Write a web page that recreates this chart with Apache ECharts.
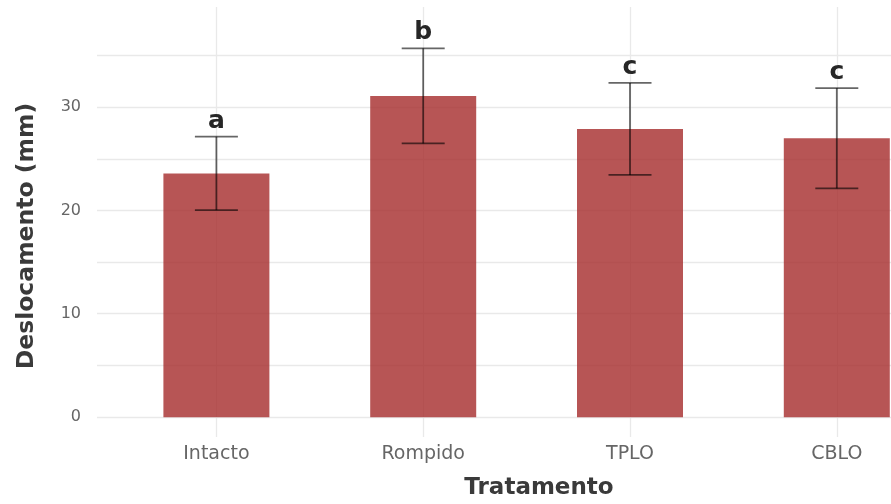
<!DOCTYPE html>
<html>
<head>
<meta charset="utf-8">
<script src="https://cdn.jsdelivr.net/npm/echarts@6/dist/echarts.min.js"></script>
<style>
  html, body { margin: 0; padding: 0; background: #ffffff; }
  #chart { width: 891px; height: 504px; }
</style>
</head>
<body>
<div id="chart"></div>
<script>
// Mean displacement per treatment, with standard deviation and group letters
const categories = ['Intacto', 'Rompido', 'TPLO', 'CBLO'];
const meanValues = [23.6, 31.1, 27.9, 27.0];
const sdValues = [3.55, 4.6, 4.45, 4.85];
const groupLetters = ['a', 'b', 'c', 'c'];
const yTickLabels = [0, 10, 20, 30];

const FONT = 'DejaVu Sans';
const GRID_COLOR = '#e9e9e9';

const errorData = categories.map((c, i) => [i, meanValues[i] - sdValues[i], meanValues[i] + sdValues[i]]);

const chart = echarts.init(document.getElementById('chart'), null, { renderer: 'canvas' });

const errStyle = { stroke: 'rgba(0,0,0,0.6)', lineWidth: 1.8, fill: null };
const CAP_HALF = 21.5;

chart.setOption({
  animation: false,
  backgroundColor: '#ffffff',
  grid: [
    // horizontal guide lines and y labels
    { left: 97, right: 0, top: 7, bottom: 87, outerBoundsMode: 'none' },
    // bars, error bars and category guide lines
    { left: 216.4, right: 54.2, top: 7, bottom: 67, outerBoundsMode: 'none' }
  ],
  xAxis: [
    { gridIndex: 0, type: 'value', show: false, min: 0, max: 1 },
    {
      gridIndex: 1,
      type: 'category',
      data: categories,
      boundaryGap: false,
      axisLine: { show: false },
      axisTick: { show: false },
      splitLine: { show: true, lineStyle: { color: GRID_COLOR, width: 1.3 } },
      axisLabel: {
        margin: 8,
        color: '#666666',
        fontFamily: FONT,
        fontSize: 19,
        interval: 0
      }
    }
  ],
  yAxis: [
    {
      gridIndex: 0,
      type: 'value',
      min: 0,
      max: 39.7,
      interval: 5,
      axisLine: { show: false },
      axisTick: { show: false },
      splitLine: { show: true, showMaxLine: false, lineStyle: { color: GRID_COLOR, width: 1.3 } },
      axisLabel: {
        margin: 16,
        color: '#666666',
        fontFamily: FONT,
        fontSize: 16,
        showMaxLabel: false,
        formatter: v => (yTickLabels.indexOf(v) >= 0 ? String(v) : '')
      }
    },
    { gridIndex: 1, type: 'value', show: false, min: -1.9, max: 39.7 }
  ],
  series: [
    {
      type: 'bar',
      xAxisIndex: 1,
      yAxisIndex: 1,
      data: meanValues,
      barWidth: 106,
      clip: false,
      itemStyle: { color: 'rgba(165,42,42,0.8)' }
    },
    {
      type: 'custom',
      xAxisIndex: 1,
      yAxisIndex: 1,
      data: errorData,
      clip: false,
      z: 3,
      renderItem(params, api) {
        const i = api.value(0);
        const lo = api.coord([i, api.value(1)]);
        const hi = api.coord([i, api.value(2)]);
        return {
          type: 'group',
          children: [
            { type: 'line', shape: { x1: hi[0], y1: hi[1], x2: lo[0], y2: lo[1] }, style: errStyle },
            { type: 'line', shape: { x1: hi[0] - CAP_HALF, y1: hi[1], x2: hi[0] + CAP_HALF, y2: hi[1] }, style: errStyle },
            { type: 'line', shape: { x1: lo[0] - CAP_HALF, y1: lo[1], x2: lo[0] + CAP_HALF, y2: lo[1] }, style: errStyle }
          ]
        };
      }
    },
    {
      type: 'custom',
      xAxisIndex: 1,
      yAxisIndex: 1,
      data: errorData,
      clip: false,
      z: 4,
      renderItem(params, api) {
        const i = api.value(0);
        const hi = api.coord([i, api.value(2)]);
        return {
          type: 'text',
          x: hi[0],
          y: hi[1] - 3,
          style: {
            text: groupLetters[params.dataIndex],
            fontFamily: FONT,
            fontWeight: 'bold',
            fontSize: 25,
            fill: '#262626',
            align: 'center',
            verticalAlign: 'bottom'
          }
        };
      }
    }
  ],
  graphic: [
    {
      type: 'text',
      x: 539,
      y: 488,
      style: {
        text: 'Tratamento',
        fontFamily: FONT,
        fontWeight: 'bold',
        fontSize: 23,
        fill: '#3a3a3a',
        align: 'center',
        verticalAlign: 'middle'
      }
    },
    {
      type: 'text',
      x: 27,
      y: 236,
      rotation: Math.PI / 2,
      style: {
        text: 'Deslocamento (mm)',
        fontFamily: FONT,
        fontWeight: 'bold',
        fontSize: 23.5,
        fill: '#3a3a3a',
        align: 'center',
        verticalAlign: 'middle'
      }
    }
  ]
});
</script>
</body>
</html>
